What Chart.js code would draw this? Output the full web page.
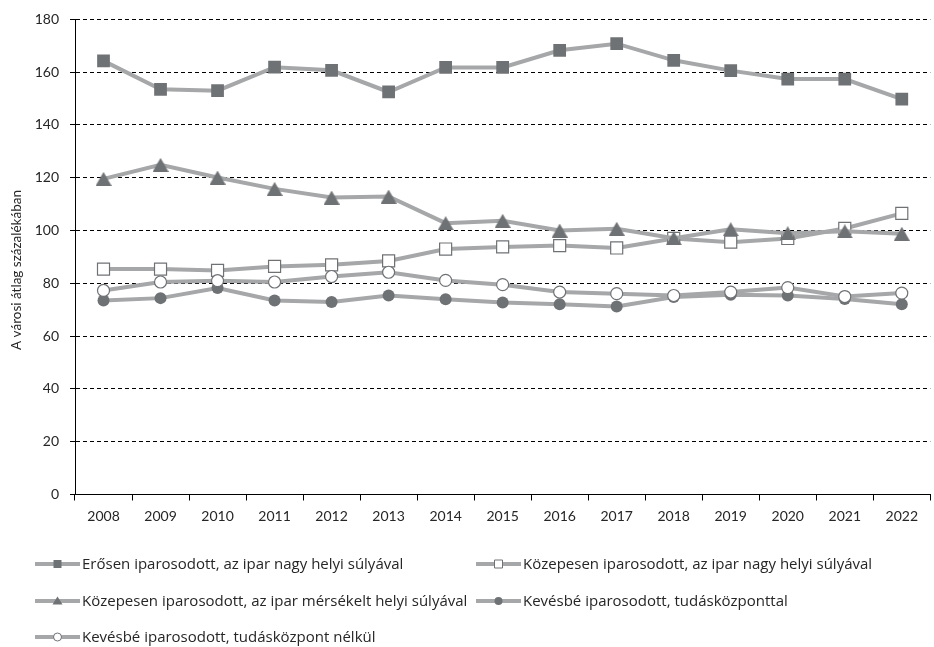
<!DOCTYPE html>
<html>
<head>
<meta charset="utf-8">
<title>Városcsoportok</title>
<script src="https://cdn.jsdelivr.net/npm/chart.js@4.4.0/dist/chart.umd.min.js"></script>
<style>
  html, body { margin: 0; padding: 0; background: #fff; overflow: hidden; }
  #chart { display: block; }
</style>
</head>
<body>
<canvas id="chart" width="940" height="647"></canvas>
<script>
const years = ['2008', '2009', '2010', '2011', '2012', '2013', '2014', '2015',
  '2016', '2017', '2018', '2019', '2020', '2021', '2022'];

const erosenNagy = [164.3, 153.5, 153.0, 161.9, 160.7, 152.5, 161.8, 161.8,
  168.3, 170.8, 164.5, 160.6, 157.4, 157.4, 149.8];
const kozepesenNagy = [85.4, 85.4, 84.9, 86.4, 87.0, 88.5, 93.0, 93.8,
  94.3, 93.4, 97.0, 95.6, 97.0, 100.8, 106.5];
const kozepesenMersekelt = [119.6, 124.9, 120.1, 115.8, 112.5, 112.9, 102.8, 103.7,
  100.0, 100.7, 97.1, 100.5, 99.0, 99.7, 98.8];
const kevesbeTudaskozponttal = [73.5, 74.4, 78.2, 73.5, 72.9, 75.4, 74.0, 72.7,
  72.1, 71.2, 74.8, 75.7, 75.4, 74.1, 72.1];
const kevesbeNelkul = [77.3, 80.5, 81.0, 80.5, 82.6, 84.2, 81.1, 79.5,
  76.7, 76.1, 75.4, 76.7, 78.4, 75.0, 76.3];

const seriesNames = [
  'Erősen iparosodott, az ipar nagy helyi súlyával',
  'Közepesen iparosodott, az ipar nagy helyi súlyával',
  'Közepesen iparosodott, az ipar mérsékelt helyi súlyával',
  'Kevésbé iparosodott, tudásközponttal',
  'Kevésbé iparosodott, tudásközpont nélkül'
];

const yTitle = 'A városi átlag százalékában';

const LINE = '#a5a7a8';
const MARK = '#6f7275';
const TEXT = '#262626';
const FONT = 'Lato, "Open Sans", sans-serif';
const LEGEND_FONT = '"Open Sans", Lato, sans-serif';

// triangle marker as an image so it sits centred on the point
function triangleImage(w, h) {
  const c = document.createElement('canvas');
  c.width = w; c.height = h;
  const g = c.getContext('2d');
  g.fillStyle = MARK;
  g.beginPath();
  g.moveTo(w / 2, 0);
  g.lineTo(w, h);
  g.lineTo(0, h);
  g.closePath();
  g.fill();
  return c;
}

function drawMarker(ctx, type, filled, x, y, s) {
  ctx.fillStyle = filled ? MARK : '#fff';
  ctx.strokeStyle = MARK;
  ctx.lineWidth = 1;
  ctx.beginPath();
  if (type === 'rect') {
    ctx.rect(x - s / 2, y - s / 2, s, s);
  } else if (type === 'circle') {
    ctx.arc(x, y, s / 2, 0, Math.PI * 2);
  } else {
    ctx.moveTo(x, y - s / 2);
    ctx.lineTo(x + s / 2 + 0.5, y + s / 2 - 1);
    ctx.lineTo(x - s / 2 - 0.5, y + s / 2 - 1);
    ctx.closePath();
  }
  ctx.fill();
  if (!filled) ctx.stroke();
}

function series(label, data, style, filled, radius, order) {
  return {
    label: label,
    data: data,
    borderColor: LINE,
    borderWidth: 4,
    tension: 0,
    pointStyle: style,
    pointRadius: radius,
    pointHoverRadius: radius,
    pointBackgroundColor: filled ? MARK : '#fff',
    pointBorderColor: MARK,
    pointBorderWidth: filled ? 0 : 1.2,
    order: order,
    markerType: typeof style === 'string' ? style : 'triangle',
    markerFilled: filled
  };
}

// two-column legend under the axis, line with marker in the middle
const gridLegend = {
  id: 'gridLegend',
  afterDraw(chart) {
    const ctx = chart.ctx;
    const cols = [35, 476];
    const rows = [564, 601, 637];
    chart.data.datasets.forEach((ds, i) => {
      const x = cols[i % 2];
      const y = rows[Math.floor(i / 2)];
      ctx.save();
      ctx.strokeStyle = ds.borderColor;
      ctx.lineWidth = 4;
      ctx.beginPath();
      ctx.moveTo(x, y);
      ctx.lineTo(x + 45, y);
      ctx.stroke();
      drawMarker(ctx, ds.markerType, ds.markerFilled, x + 22.5, y, ds.markerType === 'triangle' ? 9 : 8);
      ctx.fillStyle = TEXT;
      ctx.font = '15px ' + LEGEND_FONT;
      ctx.textBaseline = 'middle';
      ctx.textAlign = 'left';
      ctx.fillText(ds.label, x + 47, y + 1);
      ctx.restore();
    });

    // vertical axis title
    ctx.save();
    ctx.translate(17, 270);
    ctx.rotate(-Math.PI / 2);
    ctx.fillStyle = TEXT;
    ctx.font = '13.5px ' + FONT;
    ctx.textAlign = 'center';
    ctx.textBaseline = 'middle';
    ctx.fillText(yTitle, 0, 0);
    ctx.restore();
  }
};

new Chart(document.getElementById('chart'), {
  type: 'line',
  data: {
    labels: years,
    datasets: [
      series(seriesNames[0], erosenNagy, 'rect', true, 9, 5),
      series(seriesNames[1], kozepesenNagy, 'rect', false, 8.5, 4),
      series(seriesNames[2], kozepesenMersekelt, triangleImage(16, 14), true, 8, 3),
      series(seriesNames[3], kevesbeTudaskozponttal, 'circle', true, 6, 2),
      series(seriesNames[4], kevesbeNelkul, 'circle', false, 6, 1)
    ]
  },
  options: {
    responsive: false,
    animation: false,
    layout: { padding: { top: 18, right: 0, bottom: 120, left: 0 } },
    plugins: {
      legend: { display: false },
      tooltip: { enabled: false }
    },
    scales: {
      x: {
        offset: true,
        grid: {
          display: true,
          drawOnChartArea: false,
          drawTicks: true,
          tickLength: 6,
          color: '#000',
          offset: true
        },
        border: { display: true, color: '#000', width: 1 },
        ticks: {
          color: TEXT,
          font: { family: FONT, size: 14 },
          padding: 8,
          maxRotation: 0,
          autoSkip: false
        },
        afterFit(scale) { scale.height = 32.5; }
      },
      y: {
        min: 0,
        max: 180,
        grid: {
          color: '#000',
          lineWidth: 1,
          tickLength: 5,
          tickColor: '#000',
          tickBorderDash: []
        },
        border: { display: true, color: '#000', width: 1, dash: [4, 3] },
        ticks: {
          stepSize: 20,
          color: TEXT,
          font: { family: FONT, size: 14 },
          padding: 11
        },
        afterFit(scale) { scale.width = 75; }
      }
    }
  },
  plugins: [gridLegend]
});
</script>
</body>
</html>
